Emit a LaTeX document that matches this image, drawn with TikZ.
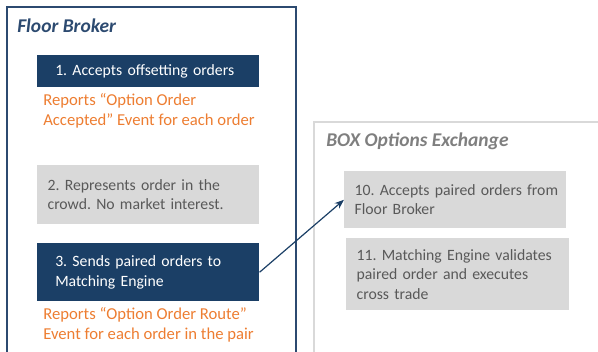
\documentclass[tikz,border=0pt]{standalone}
\usepackage{fontspec}
\setmainfont{Carlito}
\usepackage{xcolor}
\usetikzlibrary{arrows.meta, positioning}

\definecolor{navy}{HTML}{1B3F66}
\definecolor{framenavy}{HTML}{2C4A70}
\definecolor{reporange}{HTML}{ED7D31}
\definecolor{boxgray}{HTML}{D9D9D9}
\definecolor{txtgray}{HTML}{595959}
\definecolor{titlegray}{HTML}{7F7F7F}

\tikzset{
  stepdark/.style={fill=navy, text=white, anchor=north west, align=left,
    inner xsep=13.5pt, inner ysep=0pt, font=\fontsize{11.8}{14.6}\selectfont},
  steplight/.style={fill=boxgray, text=txtgray, anchor=north west, align=left,
    inner xsep=7.75pt, inner ysep=0pt, font=\fontsize{11.8}{14.6}\selectfont},
  report/.style={text=reporange, anchor=north west, align=left, inner sep=0pt,
    font=\fontsize{12.5}{15}\selectfont},
  paneltitle/.style={anchor=west, inner sep=0pt,
    font=\fontsize{14.6}{16}\selectfont\bfseries\itshape}
}

\begin{document}
\frenchspacing
\begin{tikzpicture}[>=Stealth, x=0.75pt, y=-0.75pt]
  \useasboundingbox (0,0) rectangle (598,352);
  \clip (0,0) rectangle (598,352);
  % panels
  \draw[framenavy, line width=1.1pt] (7,7) rectangle (296,360);
  \node[paneltitle, text=framenavy] (fbtitle) at (17,26) {Floor Broker};
  \draw[boxgray, line width=1.5pt] (314,122) rectangle (610,360);
  \node[paneltitle, text=titlegray] (boxtitle) at (326,141) {BOX Options Exchange};
  % floor broker steps
  \node[stepdark, minimum width=166.5pt, minimum height=24pt,
    text width=139.5pt] (accept) at (37,55)
    {1. Accepts offsetting orders};
  \node[report] (rep1) at (43,93)
    {Reports “Option Order\\Accepted” Event for each order};
  \node[steplight, minimum width=166.5pt, minimum height=44.25pt,
    text width=151pt] (crowd) at (37,165)
    {2. Represents order in the\\crowd. No market interest.};
  \node[stepdark, minimum width=166.5pt, minimum height=43.5pt,
    text width=139.5pt] (send) at (37,243)
    {3. Sends paired orders to\\Matching Engine};
  \node[report] (rep3) at (43,307)
    {Reports “Option Order Route”\\Event for each order in the pair};
  % exchange steps
  \node[steplight, minimum width=166.5pt, minimum height=42.75pt,
    text width=151pt] (paired) at (344,171)
    {\mbox{10. Accepts paired orders from}\\Floor Broker};
  \node[steplight, minimum width=167.25pt, minimum height=54pt,
    text width=151.75pt] (match) at (346,238)
    {11. Matching Engine validates\\paired order and executes\\cross trade};
  % route
  \draw[->, navy, line width=0.9pt] (send.east) -- (paired.west);
\end{tikzpicture}
\end{document}
